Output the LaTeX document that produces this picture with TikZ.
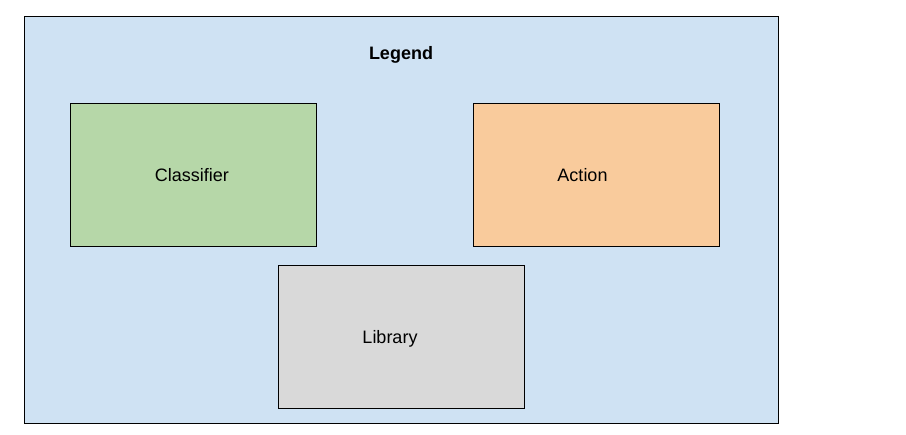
\documentclass[tikz,border=0pt]{standalone}
\usepackage{fontspec}
\setmainfont{Liberation Sans}
\definecolor{legendbg}{HTML}{CFE2F3}
\definecolor{classfill}{HTML}{B6D7A8}
\definecolor{actfill}{HTML}{F9CB9C}
\definecolor{libfill}{HTML}{D9D9D9}
\tikzset{
  box/.style={draw=black, line width=0.8pt, minimum width=246pt, minimum height=143pt, inner sep=0pt, anchor=north west},
  lbl/.style={font=\fontsize{18}{22}\selectfont, inner sep=0pt},
}
\begin{document}
\begin{tikzpicture}[x=1pt,y=-1pt]
\useasboundingbox (0,0) rectangle (906,435);
\node[draw=black, line width=0.8pt, fill=legendbg, minimum width=754pt, minimum height=407pt, anchor=north west, inner sep=0pt] (legend) at (24,16) {};
\node[lbl, font=\fontsize{18}{22}\selectfont\bfseries] (title) at (401,54.5) {Legend};
\node[box, fill=classfill] (classifier) at (70,103) {};
\node[lbl] (classifiertext) at (192,175) {Classifier};
\node[box, fill=actfill] (action) at (473,103) {};
\node[lbl] (actiontext) at (582.5,175) {Action};
\node[box, fill=libfill] (library) at (278,265) {};
\node[lbl] (librarytext) at (390,339) {Library};
\end{tikzpicture}
\end{document}
